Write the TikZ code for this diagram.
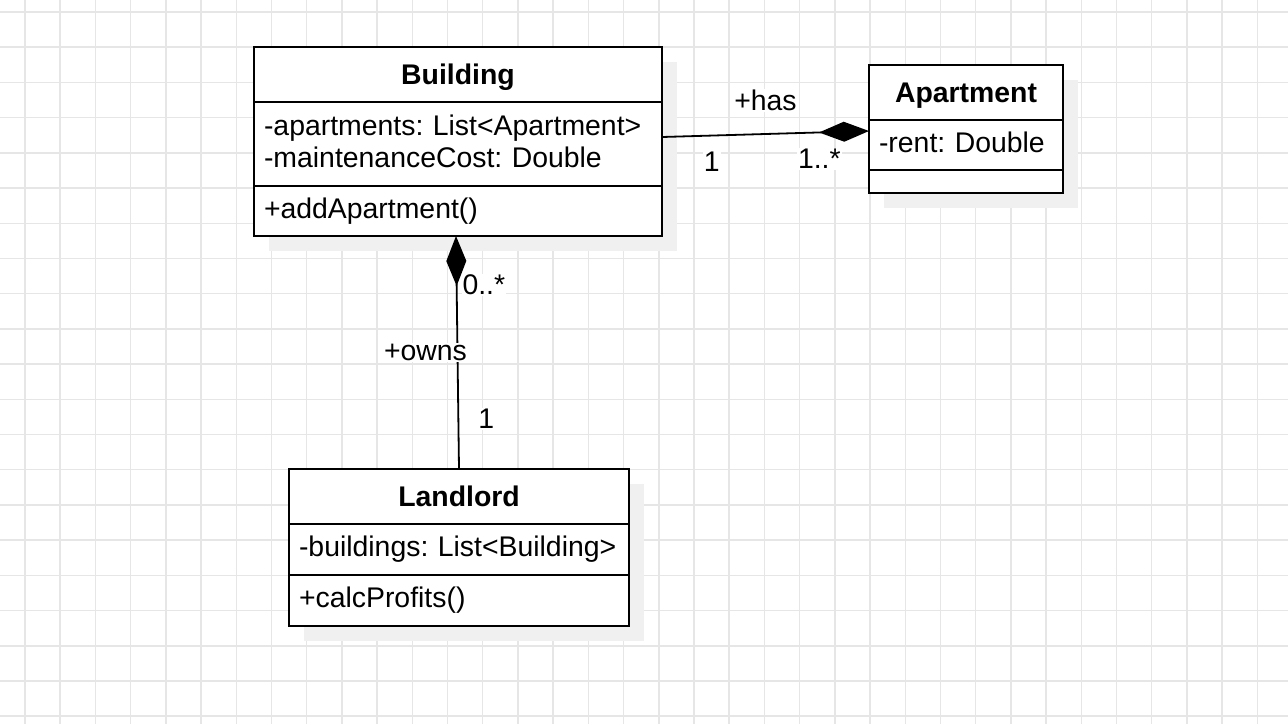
\documentclass[tikz,border=0pt]{standalone}
\usepackage{fontspec}
\setmainfont{Liberation Sans}
\frenchspacing
\usetikzlibrary{shapes,arrows.meta,positioning,shadows}
\definecolor{gridgray}{HTML}{E6E6E6}
\definecolor{shadegray}{HTML}{F0F0F0}
\newcommand\rowstrut{\rule[-8.7pt]{0pt}{32pt}}

\begin{document}
\begin{tikzpicture}[x=1pt,y=1pt,line width=1.8pt,
                    font=\fontsize{28.4pt}{32pt}\selectfont]
  \tikzstyle{classhead}=[draw, rectangle, fill=white, outer sep=0pt, minimum height=55pt,
                         text depth=0pt, font=\fontsize{28.4pt}{32pt}\selectfont\bfseries,
                         general shadow={fill=shadegray, shadow xshift=15pt, shadow yshift=-15pt}]
  \tikzstyle{classbody}=[draw, rectangle, fill=white, outer sep=0pt, align=left,
                         inner xsep=10pt, inner ysep=0pt, execute at begin node=\rowstrut,
                         general shadow={fill=shadegray, shadow xshift=15pt, shadow yshift=-15pt}]
  \tikzstyle{assoc}=[line width=1.8pt]
  \tikzstyle{lbl}=[fill=white, inner sep=1pt]

 \useasboundingbox (0,0) rectangle (1288,-724);
 \fill[white] (0,0) rectangle (1288,-724);
 \foreach \i in {0,...,35} \draw[gridgray, line width=1.5pt] ({25+35.21*\i},0) -- ({25+35.21*\i},-724);
 \foreach \j in {0,...,20} \draw[gridgray, line width=1.5pt] (0,{-12-35.21*\j}) -- (1288,{-12-35.21*\j});

 \node[classhead, minimum width=408pt] (bld) at (458,-74.5) {Building};
 \node[classbody, text width=388pt, minimum height=84pt, below=0pt of bld] (bldattr)
      {-apartments: List<Apartment>\\\rowstrut-maintenanceCost: Double};
 \node[classbody, text width=388pt, minimum height=50pt, below=0pt of bldattr] (bldops) {+addApartment()};

 \node[classhead, minimum width=194pt] (apt) at (966,-92.5) {Apartment};
 \node[classbody, text width=174pt, minimum height=50pt, below=0pt of apt] (aptattr) {-rent: Double};
 \node[draw, fill=white, outer sep=0pt, inner sep=0pt, minimum width=194pt, minimum height=23pt,
       general shadow={fill=shadegray, shadow xshift=15pt, shadow yshift=-15pt},
       below=0pt of aptattr] (aptops) {};

 \node[classhead, minimum width=340pt] (lord) at (459,-496.5) {Landlord};
 \node[classbody, text width=320pt, minimum height=51pt, below=0pt of lord] (lordattr)
      {-buildings: List<Building>};
 \node[classbody, text width=320pt, minimum height=51pt, below=0pt of lordattr] (lordops) {+calcProfits()};

 \draw[assoc, -{Diamond[length=50pt,width=20pt]}] ([yshift=7pt]bldattr.east) --
       node[lbl, pos=0.5, above=21pt] {+has}
       node[lbl, pos=0.24, below=14pt] {1}
       node[lbl, pos=0.76, below=15pt] {1..*}
       ([yshift=14pt]aptattr.west);

 \draw[assoc, {Diamond[length=50pt,width=20pt]}-] ([xshift=-2pt]bldops.south) --
       node[lbl, pos=0.5, xshift=-32pt] {+owns}
       node[lbl, pos=0.21, right=4pt] {0..*}
       node[lbl, pos=0.785, right=18pt] {1}
       (lord.north);

\end{tikzpicture}
\end{document}
